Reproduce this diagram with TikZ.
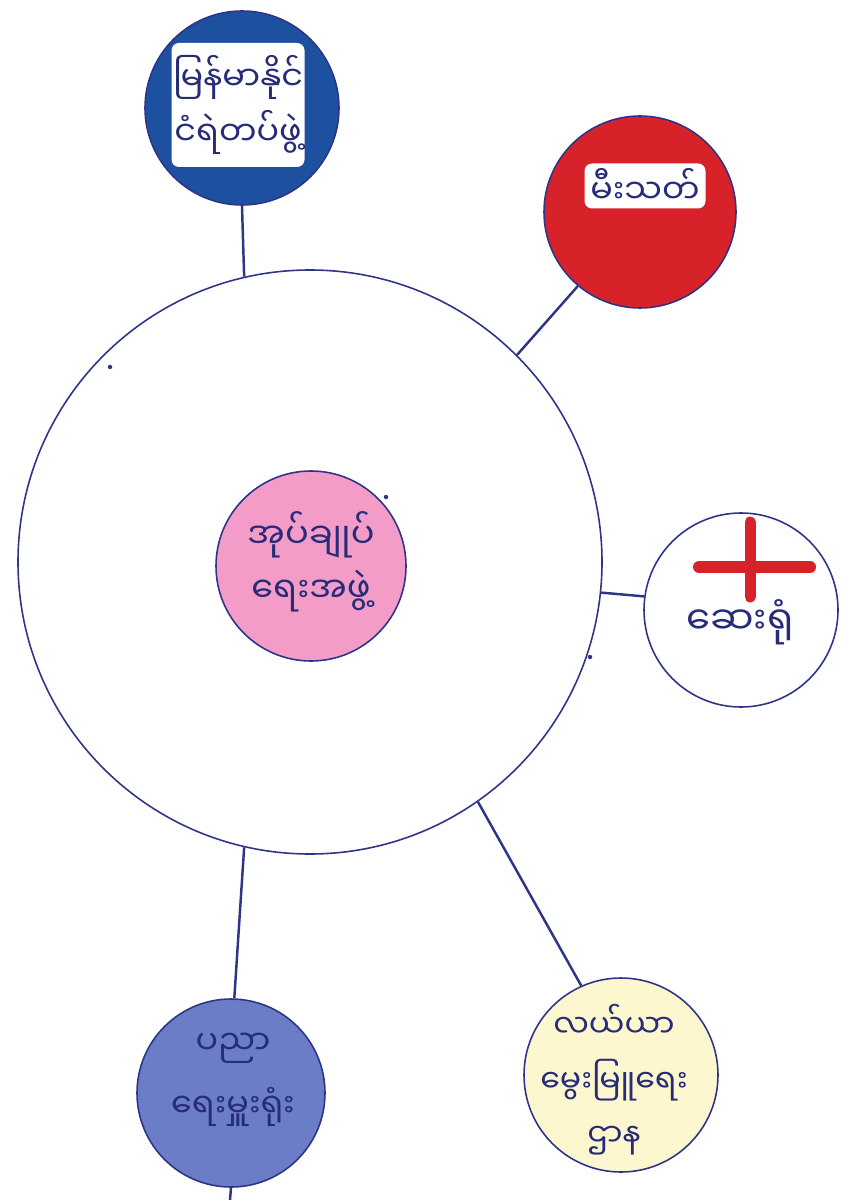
\documentclass[tikz,border=0pt]{standalone}
\usepackage{fontspec}
\newfontfamily\mmfont[Script=Myanmar]{Noto Sans Myanmar UI}
\definecolor{ink}{HTML}{2E3487}
\definecolor{textink}{HTML}{262C78}
\definecolor{policeblue}{HTML}{1E50A0}
\definecolor{firered}{HTML}{D82229}
\definecolor{councilpink}{HTML}{F39CC8}
\definecolor{edublue}{HTML}{6A7DC6}
\definecolor{farmyellow}{HTML}{FCF7CF}
\usetikzlibrary{positioning}

\begin{document}
\begin{tikzpicture}[x=0.2mm, y=-0.2mm,
    office/.style={circle, draw=ink, line width=0.9pt, inner sep=0pt, minimum size=#1*0.2mm},
    link/.style={draw=ink, line width=1.4pt},
    mm/.style={font=\mmfont\fontsize{#1}{31}\selectfont, text=textink, align=center, inner sep=0pt},
    mm/.default=18,
    whitebox/.style={fill=white, rounded corners=1.5mm, inner sep=0pt}]
        \useasboundingbox (0, 0) rectangle (843, 1200);

        % the offices
        \node[office=584] (council) at (310, 562) {};
        \node[office=190, fill=councilpink] (admin) at (311, 566) {};
        \node[mm=20] (admintxt) at (311, 562) {အုပ်ချုပ်\\ရေးအဖွဲ့};
        \node[office=194, fill=policeblue] (police) at (242, 108) {};
        \node[whitebox, minimum width=133*0.2mm, minimum height=124*0.2mm, mm=19] (policetxt) at (238, 105) {မြန်မာနိုင်\\ငံရဲတပ်ဖွဲ့};
        \node[office=192, fill=firered] (fire) at (640, 212) {};
        \node[whitebox, minimum width=121*0.2mm, minimum height=45*0.2mm, mm=19] (firetxt) at (645, 186) {မီးသတ်};
        \node[office=194] (hospital) at (741, 610) {};
        \node[office=188, fill=edublue] (edu) at (231, 1093) {};
        \node[mm=19] (edutxt) at (233, 1080) {ပညာ\\[5pt]ရေးမှူးရုံး};
        \node[office=194, fill=farmyellow] (farm) at (621, 1075) {};
        \node[mm=18] (farmtxt) at (614, 1080) {လယ်ယာ\\မွေးမြူရေး\\ဌာန};

        % red cross of the hospital
        \draw[firered, line width=2.4mm, line cap=round] (699, 567) -- (810, 567);
        \draw[firered, line width=2.2mm, line cap=round] (750, 522) -- (750, 597);
        \node[mm=22] (hospitaltxt) at (740, 622) {ဆေးရုံ};

        % links to the outer ring
        \coordinate (cut) at (230, 1200);
        \draw[link] (police.south) -- (council.103.7);
        \draw[link] (fire.230) -- (council.45.3);
        \draw[link] (council.-6.8) -- (hospital.172.3);
        \draw[link] (council.257.8) -- (edu.88);
        \draw[link] (council.-55.3) -- (farm.114.5);
        \draw[link] (edu.270) -- (cut);

        \fill[ink] (110, 367) circle (0.45mm);
        \fill[ink] (386, 497) circle (0.45mm);
        \fill[ink] (590, 657) circle (0.45mm);
    \end{tikzpicture}
\end{document}
